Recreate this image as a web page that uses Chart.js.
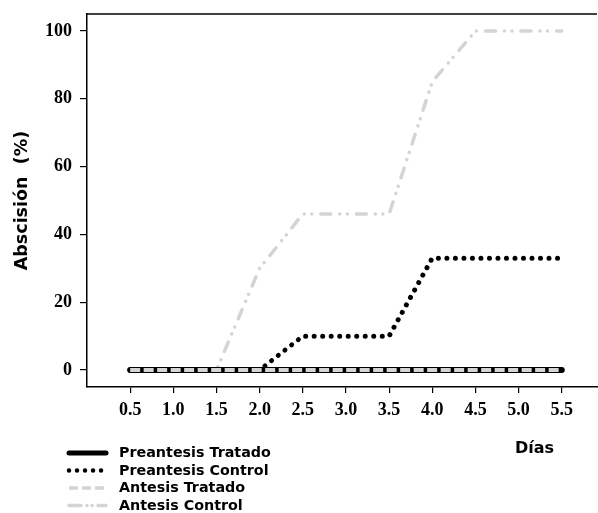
<!DOCTYPE html>
<html><head><meta charset="utf-8">
<script src="https://cdn.jsdelivr.net/npm/chart.js@4/dist/chart.umd.min.js"></script>
<style>html,body{margin:0;padding:0;background:#fff}#wrap{width:598px;height:513px;position:relative}canvas{display:block}</style>
</head><body><div id="wrap"><canvas id="c" width="598" height="513"></canvas></div>
<script>
// ---- data ----
const dias = [0.5, 1.0, 1.5, 2.0, 2.5, 3.0, 3.5, 4.0, 4.5, 5.0, 5.5];
const xTickLabels = ['0.5','1.0','1.5','2.0','2.5','3.0','3.5','4.0','4.5','5.0','5.5'];
const yTicks = [0, 20, 40, 60, 80, 100];
const seriesNames = ['Preantesis Tratado', 'Preantesis Control', 'Antesis Tratado', 'Antesis Control'];
const preantesisTratado = [0, 0, 0, 0, 0, 0, 0, 0, 0, 0, 0];
const preantesisControl = [0, 0, 0, 0, 10, 10, 10, 33, 33, 33, 33];
const antesisTratado    = [0, 0, 0, 0, 0, 0, 0, 0, 0, 0, 0];
const antesisControl    = [0, 0, 0, 30, 46, 46, 46, 85, 100, 100, 100];
const xTitle = 'Días';
const yTitle = 'Abscisión  (%)';

const GREY = '#d4d4d4';
const pts = arr => arr.map((v, i) => ({x: dias[i], y: v}));

const styles = [
  {borderColor: '#000', borderWidth: 6, borderDash: [], borderCapStyle: 'round', order: 1, legendWidth: 5},
  {borderColor: '#000', borderWidth: 5, borderDash: [0.01, 8.5], borderCapStyle: 'round', order: 2, legendWidth: 4.5, legendDash: [0.01, 8]},
  {borderColor: GREY, borderWidth: 4, borderDash: [10, 3.5], borderCapStyle: 'butt', order: 0, legendWidth: 3.5, legendDash: [9, 4]},
  {borderColor: GREY, borderWidth: 3.5, borderDash: [10, 9, 0.01, 7.5, 0.01, 9], borderCapStyle: 'round', order: 3, legendWidth: 3.5, legendDash: [12, 6, 0.01, 5, 0.01, 6]}
];
const seriesData = [preantesisTratado, preantesisControl, antesisTratado, antesisControl];

const datasets = seriesNames.map((n, i) => ({
  label: n,
  data: pts(seriesData[i]),
  borderColor: styles[i].borderColor,
  borderWidth: styles[i].borderWidth,
  borderDash: styles[i].borderDash,
  borderCapStyle: styles[i].borderCapStyle,
  borderJoinStyle: 'round',
  order: styles[i].order,
  pointRadius: 0,
  fill: false,
  tension: 0
}));

const deco = {
  id: 'deco',
  afterDraw(chart) {
    const ctx = chart.ctx, ca = chart.chartArea;
    ctx.save();
    // top frame line
    ctx.strokeStyle = '#000'; ctx.lineWidth = 1.5; ctx.setLineDash([]);
    ctx.beginPath(); ctx.moveTo(ca.left, ca.top); ctx.lineTo(ca.right - 1, ca.top); ctx.stroke();
    // legend
    const rowsY = [453, 470.5, 488, 505.5];
    chart.data.datasets.forEach((ds, i) => {
      const st = styles[i];
      ctx.strokeStyle = ds.borderColor;
      ctx.lineWidth = st.legendWidth;
      ctx.lineCap = ds.borderCapStyle === 'butt' ? 'butt' : 'round';
      ctx.setLineDash(st.legendDash || []);
      ctx.beginPath(); ctx.moveTo(69, rowsY[i]); ctx.lineTo(106, rowsY[i]); ctx.stroke();
      ctx.setLineDash([]);
      ctx.fillStyle = '#000';
      ctx.font = 'bold 14.3px "DejaVu Sans"';
      ctx.textBaseline = 'middle'; ctx.textAlign = 'left';
      ctx.fillText(ds.label, 119, rowsY[i] + 0.5);
    });
    // x title
    ctx.font = 'bold 16px "DejaVu Sans"';
    ctx.textAlign = 'left'; ctx.textBaseline = 'middle';
    ctx.fillText(xTitle, 515, 449);
    ctx.restore();
  }
};

new Chart(document.getElementById('c'), {
  type: 'line',
  data: {datasets},
  options: {
    responsive: false,
    devicePixelRatio: 1,
    animation: false,
    layout: {padding: {top: 14, left: 0, right: 0, bottom: 0}},
    plugins: {legend: {display: false}, tooltip: {enabled: false}},
    scales: {
      x: {
        type: 'linear', min: 0, max: 5.92,
        afterBuildTicks: s => { s.ticks = dias.map(v => ({value: v})); },
        afterFit: s => { s.height = 126; s.paddingLeft = 0; s.paddingRight = 0; },
        ticks: {
          autoSkip: false, maxRotation: 0, padding: 7, color: '#000',
          font: {family: '"Liberation Serif"', size: 18, weight: 'bold'},
          callback: (v, i) => xTickLabels[i]
        },
        grid: {drawOnChartArea: false, drawTicks: true, tickLength: 6, color: '#000', lineWidth: 1.2},
        border: {display: true, color: '#000', width: 1.5}
      },
      y: {
        type: 'linear', min: -5, max: 105,
        afterBuildTicks: s => { s.ticks = yTicks.map(v => ({value: v})); },
        afterFit: s => { s.width = 87; s.paddingTop = 0; s.paddingBottom = 0; },
        ticks: {
          padding: 8, color: '#000',
          font: {family: '"Liberation Serif"', size: 18, weight: 'bold'}
        },
        grid: {drawOnChartArea: false, drawTicks: true, tickLength: 7, color: '#000', lineWidth: 1.2},
        border: {display: true, color: '#000', width: 1.5},
        title: {
          display: true, text: yTitle, color: '#000',
          font: {family: '"DejaVu Sans"', size: 17.5, weight: 'bold'},
          padding: {top: 12, bottom: 0}
        }
      }
    }
  },
  plugins: [deco]
});
</script>
</body></html>
